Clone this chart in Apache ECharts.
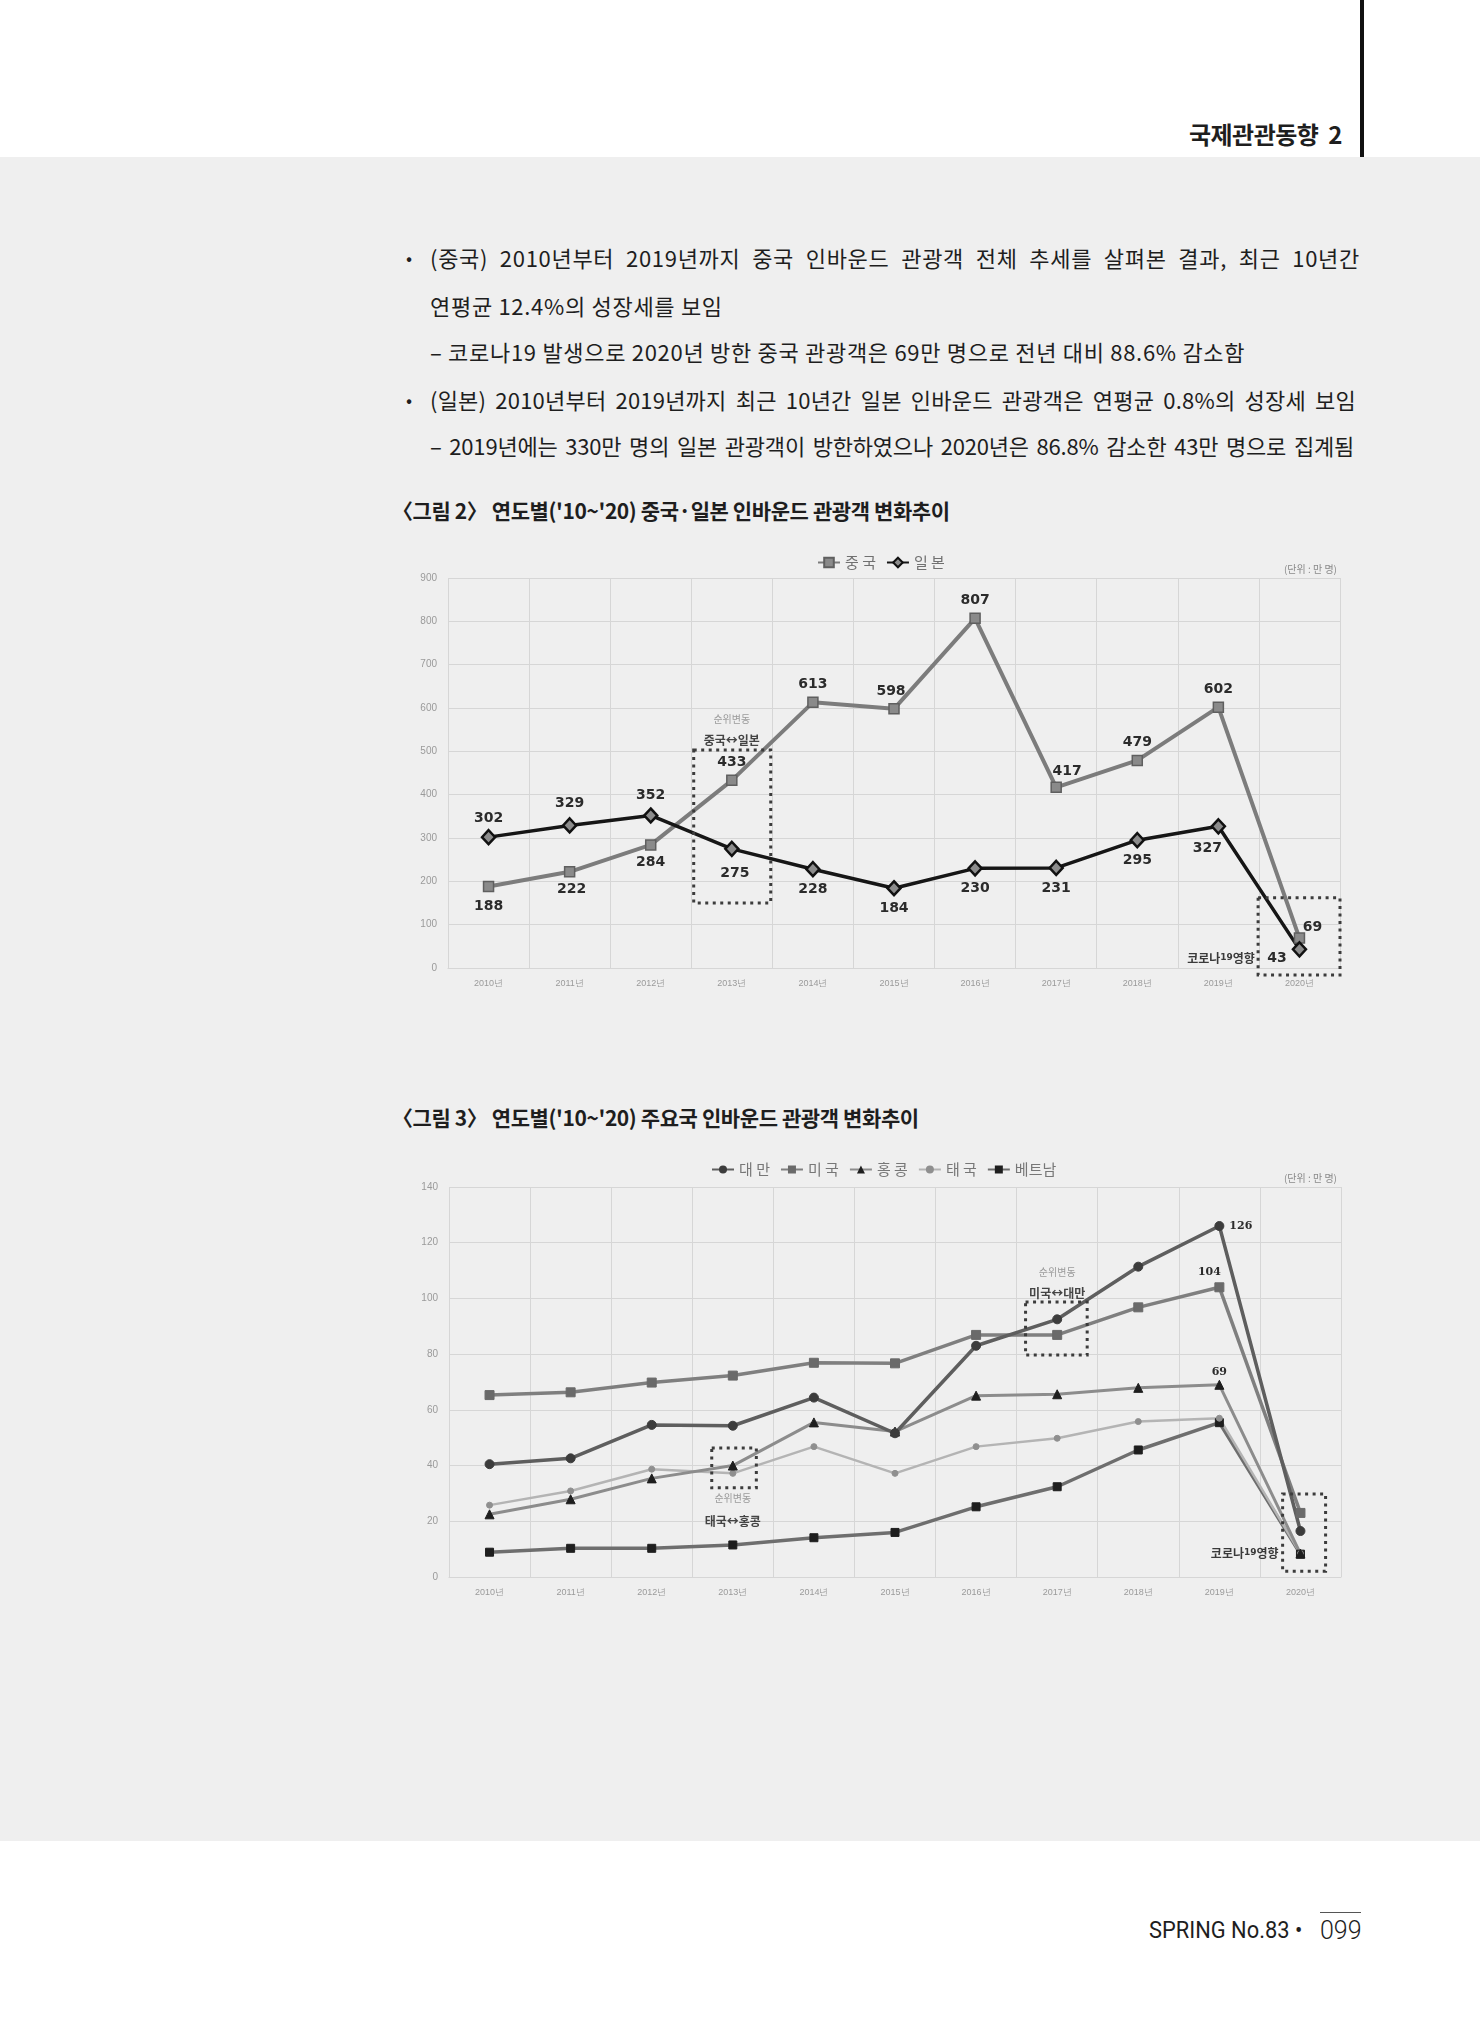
<!DOCTYPE html>
<html>
<head>
<meta charset="utf-8">
<script src="https://cdn.jsdelivr.net/npm/echarts@6/dist/echarts.min.js"></script>
<style>
html, body { margin: 0; padding: 0; background: #fff; }
#page { position: relative; width: 1480px; height: 2023px; overflow: hidden; font-family: "Noto Sans CJK KR", sans-serif; color: #1e1e1e; }
#band { position: absolute; left: 0; top: 157px; width: 1480px; height: 1684px; background: #efefef; }
#bar { position: absolute; left: 1360px; top: 0; width: 4px; height: 157px; background: #111; }
.head { position: absolute; right: 138px; top: 120px; font-size: 24px; line-height: 28px; font-weight: bold; letter-spacing: -0.5px; }
.b { position: absolute; left: 406px; font-size: 18px; line-height: 24px; }
.t { position: absolute; left: 430px; width: 930px; font-size: 22px; line-height: 24px; letter-spacing: 0.7px; white-space: nowrap; }
.j { text-align: justify; text-align-last: justify; }
.cap { position: absolute; left: 392px; font-size: 21px; line-height: 24px; font-weight: bold; letter-spacing: -0.4px; }
.chart { position: absolute; left: 0; width: 1480px; }
.foot { position: absolute; right: 178px; top: 1916px; font-family: Roboto, "Noto Sans", sans-serif; font-size: 23px; line-height: 30px; transform: scaleX(0.95); transform-origin: right center; }
.pg { position: absolute; left: 1320px; top: 1912px; width: 41px; border-top: 1px solid #555; font-family: Roboto, sans-serif; font-weight: 300; font-size: 25px; line-height: 36px; text-align: center; }
</style>
</head>
<body>
<div id="page">
  <div id="band"></div>
  <div id="bar"></div>
  <div class="head">국제관관동향&nbsp;&nbsp;2</div>

  <div class="b" style="top:245px">•</div>
  <div class="t j" style="top:245px">(중국) 2010년부터 2019년까지 중국 인바운드 관광객 전체 추세를 살펴본 결과, 최근 10년간</div>
  <div class="t" style="top:293px">연평균 12.4%의 성장세를 보임</div>
  <div class="t" style="top:339px">– 코로나19 발생으로 2020년 방한 중국 관광객은 69만 명으로 전년 대비 88.6% 감소함</div>
  <div class="b" style="top:387px">•</div>
  <div class="t j" style="top:387px;width:926px;letter-spacing:0.2px">(일본) 2010년부터 2019년까지 최근 10년간 일본 인바운드 관광객은 연평균 0.8%의 성장세 보임</div>
  <div class="t j" style="top:433px;width:924px;letter-spacing:-0.2px">– 2019년에는 330만 명의 일본 관광객이 방한하였으나 2020년은 86.8% 감소한 43만 명으로 집계됨</div>

  <div class="cap" style="top:498px">〈그림 2〉 연도별('10~'20) 중국·일본 인바운드 관광객 변화추이</div>
  <div id="c1" class="chart" style="top:520px;height:500px"></div>

  <div class="cap" style="top:1105px">〈그림 3〉 연도별('10~'20) 주요국 인바운드 관광객 변화추이</div>
  <div id="c2" class="chart" style="top:1140px;height:480px"></div>

  <div class="foot">SPRING No.83 •</div>
  <div class="pg">099</div>
</div>

<script>
// 연도 (공통)
var years = ['2010년', '2011년', '2012년', '2013년', '2014년', '2015년', '2016년', '2017년', '2018년', '2019년', '2020년'];

// 그림 2 : 중국, 일본 (단위: 만 명)
var chinaVals = [188, 222, 284, 433, 613, 598, 807, 417, 479, 602, 69];
var japanVals = [302, 329, 352, 275, 228, 184, 230, 231, 295, 327, 43];
var fig2Ticks = [0, 900, 100];

// 그림 3 : 주요국 (단위: 만 명)
var taiwanVals = [40.5, 42.6, 54.6, 54.3, 64.4, 51.6, 83.0, 92.5, 111.4, 126, 16.5];
var usaVals = [65.3, 66.3, 69.8, 72.3, 76.9, 76.7, 86.9, 86.9, 96.8, 104, 23];
var hongkongVals = [22.5, 27.9, 35.4, 40.0, 55.5, 52.2, 65.1, 65.6, 67.9, 69, 8.4];
var thaiVals = [25.8, 30.9, 38.7, 37.2, 46.8, 37.2, 46.8, 49.8, 55.8, 57.0, 8.4];
var vietnamVals = [8.9, 10.3, 10.3, 11.5, 14.1, 16.0, 25.2, 32.4, 45.6, 55.4, 8.2];
var fig3Ticks = [0, 140, 20];

var unitText = '(단위 : 만 명)';

var labelFont = 'DejaVu Sans';
var gridColor = '#d6d6d6';

function xAxisOpt() {
	return {
		type: 'category',
		data: years,
		boundaryGap: true,
		axisLine: { show: true, lineStyle: { color: gridColor } },
		axisTick: { show: false },
		axisLabel: { color: '#9a9a9a', fontSize: 9, fontFamily: 'Liberation Sans', margin: 11 },
		splitLine: { show: true, lineStyle: { color: gridColor, width: 1 } }
	};
}

function yAxisOpt(t) {
	return {
		type: 'value',
		min: t[0], max: t[1], interval: t[2],
		axisLine: { show: false },
		axisTick: { show: false },
		axisLabel: { color: '#9a9a9a', fontSize: 10, fontFamily: 'Liberation Sans', margin: 11 },
		splitLine: { lineStyle: { color: gridColor, width: 1 } }
	};
}

function bandOf(chart) {
	return chart.convertToPixel({ gridIndex: 0 }, [years[1], 0])[0] - chart.convertToPixel({ gridIndex: 0 }, [years[0], 0])[0];
}

function dotted(chart, cat, dx0, dx1, v0, v1) {
	var p = chart.convertToPixel({ gridIndex: 0 }, [cat, v0]);
	var q = chart.convertToPixel({ gridIndex: 0 }, [cat, v1]);
	var band = bandOf(chart);
	return {
		type: 'rect',
		z: 50,
		shape: { x: p[0] + dx0 * band, y: p[1], width: (dx1 - dx0) * band, height: q[1] - p[1] },
		style: { fill: 'none', stroke: '#3c3c3c', lineWidth: 3, lineDash: [3, 4.5] }
	};
}

function note(chart, cat, dx, v, text, style) {
	var p = chart.convertToPixel({ gridIndex: 0 }, [cat, v]);
	return {
		type: 'text',
		z: 50,
		x: p[0] + dx * bandOf(chart),
		y: p[1],
		style: Object.assign({ text: text, textAlign: 'center', textVerticalAlign: 'middle' }, style)
	};
}

var subStyle = { fill: '#9a9a9a', font: '10px "Noto Sans CJK KR"' };
var swapStyle = { fill: '#444', font: 'bold 12px "Noto Sans CJK KR"' };
var covidStyle = {
	text: '{a|코로나}{b|19}{a|영향}',
	textAlign: 'right',
	rich: {
		a: { fill: '#3a3a3a', fontSize: 12, fontWeight: 'bold', fontFamily: 'Noto Sans CJK KR' },
		b: { fill: '#3a3a3a', fontSize: 9, fontWeight: 'bold', fontFamily: 'DejaVu Sans' }
	}
};

// ---------- 그림 2 ----------
var chinaPos = ['bottom', 'bottom', 'bottom', 'top', 'top', 'top', 'top', 'top', 'top', 'top', 'top'];
var chinaOff = [[0, 2], [2, 0], [0, 0], [0, 0], [0, 0], [-3, 0], [0, 0], [11, 2], [0, 0], [0, 0], [13, 7]];
var japanPos = ['top', 'top', 'top', 'bottom', 'bottom', 'bottom', 'bottom', 'bottom', 'bottom', 'bottom', 'left'];
var japanOff = [[0, 2], [0, -2], [0, 0], [3, 4], [0, 0], [0, 0], [0, 0], [0, 0], [0, 0], [-11, 2], [0, 9]];

var chart1 = echarts.init(document.getElementById('c1'));
var labelBase = { show: true, color: '#2b2b2b', fontSize: 14, fontWeight: 'bold', fontFamily: labelFont, distance: 5 };

chart1.setOption({
	animation: false,
	backgroundColor: 'transparent',
	grid: { left: 448, top: 58, width: 892, height: 390 },
	legend: {
		left: 812, top: 30,
		itemWidth: 22, itemHeight: 12, itemGap: 10,
		textStyle: { color: '#707070', fontSize: 15, fontFamily: 'Noto Sans CJK KR' },
		data: ['중 국', '일 본']
	},
	xAxis: xAxisOpt(),
	yAxis: yAxisOpt(fig2Ticks),
	series: [
		{
			name: '중 국', type: 'line',
			symbol: 'rect', symbolSize: 10,
			lineStyle: { color: '#7c7c7c', width: 4 },
			itemStyle: { color: '#8a8a8a', borderColor: '#5f5f5f', borderWidth: 1.5 },
			data: chinaVals.map(function (v, i) {
				return { value: v, label: Object.assign({}, labelBase, { position: chinaPos[i], offset: chinaOff[i] }) };
			})
		},
		{
			name: '일 본', type: 'line',
			symbol: 'diamond', symbolSize: [13, 14],
			lineStyle: { color: '#161616', width: 3.5 },
			itemStyle: { color: '#8c8c8c', borderColor: '#111', borderWidth: 2.5 },
			data: japanVals.map(function (v, i) {
				return { value: v, label: Object.assign({}, labelBase, { position: japanPos[i], offset: japanOff[i] }) };
			})
		}
	]
});

chart1.setOption({
	graphic: [
		{ type: 'text', right: 143, top: 44, style: { text: unitText, fill: '#8a8a8a', font: '10px "Noto Sans CJK KR"' } },
		dotted(chart1, years[3], -0.47, 0.48, 503, 150),
		note(chart1, years[3], 0, 575, '순위변동', subStyle),
		note(chart1, years[3], 0, 526, '중국↔일본', swapStyle),
		dotted(chart1, years[10], -0.51, 0.5, 162, -16),
		note(chart1, years[10], -0.55, 23, '', covidStyle)
	]
});

// ---------- 그림 3 ----------
var chart2 = echarts.init(document.getElementById('c2'));
var smallLabel = { show: true, color: '#2b2b2b', fontSize: 11, fontWeight: 'bold', fontFamily: 'DejaVu Serif', distance: 5 };

function mkLine(name, vals, symbol, size, lineColor, lw, fill, labelAt, labelOpt) {
	return {
		name: name, type: 'line',
		symbol: symbol, symbolSize: size,
		lineStyle: { color: lineColor, width: lw },
		itemStyle: { color: fill, borderColor: fill },
		data: vals.map(function (v, i) {
			var d = { value: v };
			if (i === labelAt) d.label = Object.assign({}, smallLabel, labelOpt);
			return d;
		})
	};
}

chart2.setOption({
	animation: false,
	backgroundColor: 'transparent',
	grid: { left: 449, top: 47, width: 892, height: 390 },
	legend: {
		left: 706, top: 17,
		itemWidth: 22, itemHeight: 10, itemGap: 10,
		textStyle: { color: '#777', fontSize: 15, fontFamily: 'Noto Sans CJK KR' },
		data: ['대 만', '미 국', '홍 콩', '태 국', '베트남']
	},
	xAxis: xAxisOpt(),
	yAxis: yAxisOpt(fig3Ticks),
	series: [
		mkLine('베트남', vietnamVals, 'rect', 8, '#6e6e6e', 3.5, '#1e1e1e', -1, {}),
		mkLine('태 국', thaiVals, 'circle', 6, '#b4b4b4', 2.5, '#8f8f8f', -1, {}),
		mkLine('홍 콩', hongkongVals, 'triangle', 9, '#8c8c8c', 3, '#1e1e1e', 9, { position: 'top', offset: [0, 3] }),
		mkLine('미 국', usaVals, 'rect', 9, '#7f7f7f', 3.5, '#6a6a6a', 9, { position: 'top', offset: [-10, 0] }),
		mkLine('대 만', taiwanVals, 'circle', 9, '#5e5e5e', 3.5, '#3c3c3c', 9, { position: 'right' })
	]
});

chart2.setOption({
	graphic: [
		{ type: 'text', right: 143, top: 33, style: { text: unitText, fill: '#8a8a8a', font: '10px "Noto Sans CJK KR"' } },
		dotted(chart2, years[3], -0.26, 0.29, 46.3, 32),
		note(chart2, years[3], 0, 28.4, '순위변동', subStyle),
		note(chart2, years[3], 0, 20.1, '태국↔홍콩', swapStyle),
		dotted(chart2, years[7], -0.39, 0.37, 98.7, 79.7),
		note(chart2, years[7], 0, 109.5, '순위변동', subStyle),
		note(chart2, years[7], 0, 101.9, '미국↔대만', swapStyle),
		dotted(chart2, years[10], -0.22, 0.31, 29.8, 2.1),
		note(chart2, years[10], -0.27, 8.6, '', covidStyle)
	]
});
</script>
</body>
</html>
